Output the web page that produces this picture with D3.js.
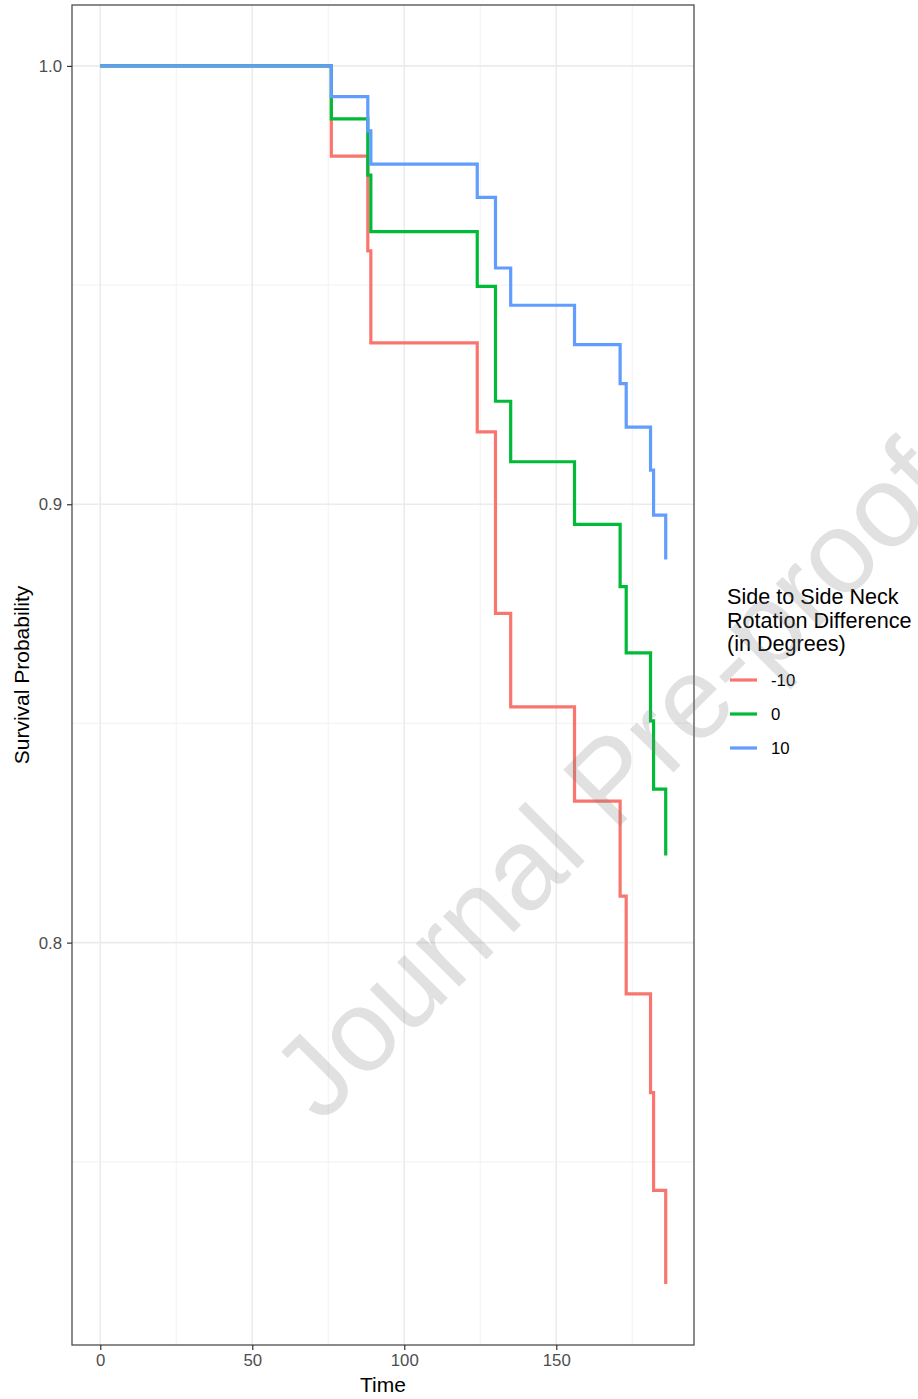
<!DOCTYPE html>
<html>
<head>
<meta charset="utf-8">
<script src="https://cdn.jsdelivr.net/npm/d3@7"></script>
<style>
  body { margin: 0; background: #fff; }
  text { font-family: Arial, "Liberation Sans", sans-serif; }
</style>
</head>
<body>
<svg id="chart" width="918" height="1399"></svg>
<script>
// event times (days) shared by all three predicted curves
const times = [0, 76, 88, 89, 124, 130, 135, 156, 171, 173, 181, 182, 186];

// survival probability per group
const survMinus10 = [1, 0.9794, 0.9578, 0.9368, 0.9165, 0.8751, 0.8538, 0.8323, 0.8106, 0.7883, 0.7658, 0.7435, 0.7221];
const survZero = [1, 0.9879, 0.9751, 0.9622, 0.9497, 0.9235, 0.9097, 0.8954, 0.8812, 0.8661, 0.8506, 0.835, 0.8199];
const survPlus10 = [1, 0.993, 0.9852, 0.9776, 0.97, 0.9539, 0.9454, 0.9364, 0.9275, 0.9176, 0.9078, 0.8975, 0.8874];

const groups = ["-10", "0", "10"];
const groupColors = ["#F8766D", "#00BA38", "#619CFF"];

const xMajor = [0, 50, 100, 150];
const xMinor = [25, 75, 125, 175];
const yMajor = [0.8, 0.9, 1.0];
const yMinor = [0.75, 0.85, 0.95];

const legendTitle = ["Side to Side Neck", "Rotation Difference", "(in Degrees)"];

const panel = { left: 72, right: 694, top: 5, bottom: 1345 };

const series = [survMinus10, survZero, survPlus10].map((vals, i) => ({
  name: groups[i],
  color: groupColors[i],
  values: vals.map((s, j) => ({ t: times[j], s })),
}));

// ggplot-style 5% expansion
const pad = ([a, b]) => [a - (b - a) * 0.05, b + (b - a) * 0.05];
const allS = [].concat(survMinus10, survZero, survPlus10);

const xScale = d3.scaleLinear().domain(pad(d3.extent(times))).range([panel.left, panel.right]);
const yScale = d3.scaleLinear().domain(pad(d3.extent(allS))).range([panel.bottom, panel.top]);

const svg = d3.select("#chart");
svg.append("rect").attr("width", 918).attr("height", 1399).attr("fill", "#fff");

const grid = svg.append("g").attr("class", "grid");
grid.selectAll("line.xminor").data(xMinor).join("line")
  .attr("x1", (d) => xScale(d)).attr("x2", (d) => xScale(d))
  .attr("y1", panel.top).attr("y2", panel.bottom)
  .attr("stroke", "#f4f4f4").attr("stroke-width", 1.2);
grid.selectAll("line.yminor").data(yMinor).join("line")
  .attr("y1", (d) => yScale(d)).attr("y2", (d) => yScale(d))
  .attr("x1", panel.left).attr("x2", panel.right)
  .attr("stroke", "#f4f4f4").attr("stroke-width", 1.2);
grid.selectAll("line.xmajor").data(xMajor).join("line")
  .attr("x1", (d) => xScale(d)).attr("x2", (d) => xScale(d))
  .attr("y1", panel.top).attr("y2", panel.bottom)
  .attr("stroke", "#ebebeb").attr("stroke-width", 1.6);
grid.selectAll("line.ymajor").data(yMajor).join("line")
  .attr("y1", (d) => yScale(d)).attr("y2", (d) => yScale(d))
  .attr("x1", panel.left).attr("x2", panel.right)
  .attr("stroke", "#ebebeb").attr("stroke-width", 1.6);

const line = d3.line()
  .x((d) => xScale(d.t))
  .y((d) => yScale(d.s))
  .curve(d3.curveStepAfter);

svg.append("g").attr("class", "curves")
  .selectAll("path").data(series).join("path")
  .attr("fill", "none")
  .attr("stroke", (d) => d.color)
  .attr("stroke-width", 3.2)
  .attr("stroke-linejoin", "miter")
  .attr("d", (d) => line(d.values));

svg.append("rect")
  .attr("x", panel.left).attr("y", panel.top)
  .attr("width", panel.right - panel.left).attr("height", panel.bottom - panel.top)
  .attr("fill", "none").attr("stroke", "#4d4d4d").attr("stroke-width", 1.3);

// axes
const xAxis = svg.append("g")
  .attr("transform", `translate(0,${panel.bottom})`)
  .call(d3.axisBottom(xScale).tickValues(xMajor).tickSize(5).tickPadding(4).tickFormat(d3.format("d")));
const yAxis = svg.append("g")
  .attr("transform", `translate(${panel.left},0)`)
  .call(d3.axisLeft(yScale).tickValues(yMajor).tickSize(5).tickPadding(5).tickFormat(d3.format(".1f")));

[xAxis, yAxis].forEach((ax) => {
  ax.select(".domain").remove();
  ax.selectAll(".tick line").attr("stroke", "#333").attr("stroke-width", 1.2);
  ax.selectAll(".tick text")
    .attr("fill", "#4d4d4d")
    .style("font-size", "16.8px")
    .style("font-family", "Arial, 'Liberation Sans', sans-serif");
});

svg.append("text")
  .attr("x", (panel.left + panel.right) / 2).attr("y", 1392)
  .attr("text-anchor", "middle")
  .style("font-size", "21px")
  .text("Time");

svg.append("text")
  .attr("transform", `translate(29,${(panel.top + panel.bottom) / 2}) rotate(-90)`)
  .attr("text-anchor", "middle")
  .style("font-size", "21px")
  .text("Survival Probability");

// legend
const legend = svg.append("g").attr("class", "legend");
legend.selectAll("text.title").data(legendTitle).join("text")
  .attr("class", "title")
  .attr("x", 727)
  .attr("y", (d, i) => 604 + i * 23.5)
  .style("font-size", "21.6px")
  .text((d) => d);

const keys = legend.selectAll("g.key").data(series).join("g")
  .attr("class", "key")
  .attr("transform", (d, i) => `translate(0,${680 + i * 34})`);
keys.append("line")
  .attr("x1", 730).attr("x2", 757)
  .attr("stroke", (d) => d.color).attr("stroke-width", 3.2);
keys.append("text")
  .attr("x", 771).attr("dy", "0.36em")
  .style("font-size", "16.8px")
  .text((d) => d.name);

// watermark
svg.append("text")
  .attr("transform", "translate(638,808) rotate(-45)")
  .attr("text-anchor", "middle")
  .attr("fill", "#808080")
  .attr("fill-opacity", 0.24)
  .style("font-size", "116px")
  .text("Journal Pre-proof");
</script>
</body>
</html>
